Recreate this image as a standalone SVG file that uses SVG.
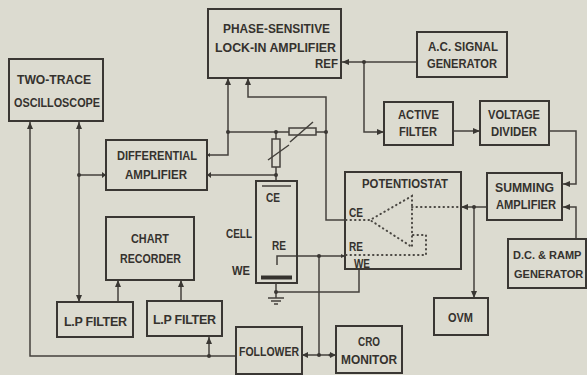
<svg xmlns="http://www.w3.org/2000/svg" width="587" height="375" viewBox="0 0 587 375">
<defs>
<style>
.b{fill:none;stroke:#3a3733;stroke-width:2}
.c{fill:none;stroke:#44413c;stroke-width:1.5}
.d{fill:none;stroke:#4a4742;stroke-width:2;stroke-linecap:round;stroke-dasharray:.5 4}
.r{fill:#dcdbd0;stroke:#44413c;stroke-width:1.5}
text{font-family:"Liberation Sans",Arial,sans-serif;font-weight:bold;font-size:12.5px;fill:#35322e}
.s{font-size:11px}
.a{fill:#3a3733}
</style>
</defs>
<rect width="587" height="375" fill="#dcdbd0"/>
<g id="connectors">
<path class="c" d="M30 122V356H236M79 122V302M79 175H106M207 155H228V79M207 175H276M228 132H289M316 132H326M326 132V97H248V79M326 132V220H345M276 132V181"/>
<path class="c" d="M342 62H417M364 62V132H384M453 131H480M549 131H576V184H563M576 239V207H563M461 207H487M474 207V298M345 256H277V265M319 256V355M276 283V298M276 292H359V269"/>
<path class="c" d="M118 302V280M181 300V280M209 337V356M302 355H336"/>
</g>
<g id="arrows" class="a">
<path d="M30 122l-3 7h6zM79 122l-3 7h6zM79 302l-3-7h6zM228 78l-3 7h6zM248 78l-3 7h6zM342 62l7-3v6zM384 132l-7-3v6zM480 131l-7-3v6zM563 184l7-3v6zM563 207l7-3v6zM461 207l7-3v6zM474 298l-3-7h6zM118 280l-3 7h6zM181 280l-3 7h6zM209 337l-3 7h6zM106 175l-4-3v6zM207 175l4-3v6zM207 155l3-2v4zM302 355l6-3v6zM336 355l-6-3v6zM345 256l-4-2v4z"/>
<circle cx="79" cy="175" r="2"/><circle cx="228" cy="132" r="2"/><circle cx="276" cy="132" r="2"/><circle cx="276" cy="175" r="2"/><circle cx="326" cy="132" r="2"/><circle cx="364" cy="62" r="2"/><circle cx="474" cy="207" r="2"/><circle cx="319" cy="256" r="2"/><circle cx="319" cy="355" r="2"/><circle cx="276" cy="292" r="2"/><circle cx="209" cy="356" r="2"/><circle cx="330" cy="355" r="1.5"/>
</g>
<g id="two-trace"><rect class="b" x="9" y="59" width="94" height="62"/><text x="17" y="84" textLength="74" lengthAdjust="spacingAndGlyphs">TWO-TRACE</text><text x="14" y="107" textLength="86" lengthAdjust="spacingAndGlyphs">OSCILLOSCOPE</text></g>
<g id="differential"><rect class="b" x="106" y="140" width="101" height="50"/><text x="117" y="160" textLength="80" lengthAdjust="spacingAndGlyphs">DIFFERENTIAL</text><text x="125" y="179" textLength="62" lengthAdjust="spacingAndGlyphs">AMPLIFIER</text></g>
<g id="lockin"><rect class="b" x="208" y="9" width="133" height="69"/><text x="223" y="33" textLength="107" lengthAdjust="spacingAndGlyphs">PHASE-SENSITIVE</text><text x="215" y="52" textLength="121" lengthAdjust="spacingAndGlyphs">LOCK-IN AMPLIFIER</text><text x="315" y="68" textLength="23" lengthAdjust="spacingAndGlyphs">REF</text></g>
<g id="ac"><rect class="b" x="417" y="32" width="90" height="45"/><text x="428" y="51" textLength="70" lengthAdjust="spacingAndGlyphs">A.C. SIGNAL</text><text x="427" y="68" textLength="70" lengthAdjust="spacingAndGlyphs">GENERATOR</text></g>
<g id="active"><rect class="b" x="384" y="102" width="69" height="43"/><text x="398" y="119" textLength="41" lengthAdjust="spacingAndGlyphs">ACTIVE</text><text x="399" y="136" textLength="38" lengthAdjust="spacingAndGlyphs">FILTER</text></g>
<g id="divider"><rect class="b" x="480" y="101" width="69" height="44"/><text x="488" y="119" textLength="52" lengthAdjust="spacingAndGlyphs">VOLTAGE</text><text x="491" y="136" textLength="46" lengthAdjust="spacingAndGlyphs">DIVIDER</text></g>
<g id="potentiostat"><rect class="b" x="345" y="172" width="116" height="97"/><text x="362" y="188" textLength="86" lengthAdjust="spacingAndGlyphs">POTENTIOSTAT</text><text x="349" y="217" textLength="14" lengthAdjust="spacingAndGlyphs">CE</text><text x="349" y="251" textLength="14" lengthAdjust="spacingAndGlyphs">RE</text><text x="354" y="268" textLength="16" lengthAdjust="spacingAndGlyphs">WE</text>
<path class="d" d="M346 220H370L412 196V247L370 220M412 207H459M346 255H426V235H413"/></g>
<g id="summing"><rect class="b" x="487" y="173" width="75" height="47"/><text x="495" y="192" textLength="59" lengthAdjust="spacingAndGlyphs">SUMMING</text><text x="496" y="209" textLength="60" lengthAdjust="spacingAndGlyphs">AMPLIFIER</text></g>
<g id="ramp"><rect class="b" x="508" y="239" width="78" height="49"/><text class="s" x="513" y="259">D.C. &amp; RAMP</text><text class="s" x="514" y="278">GENERATOR</text></g>
<g id="ovm"><rect class="b" x="434" y="298" width="54" height="37"/><text x="448" y="322" textLength="25" lengthAdjust="spacingAndGlyphs">OVM</text></g>
<g id="cro"><rect class="b" x="336" y="326" width="66" height="47"/><text x="358" y="346" textLength="22" lengthAdjust="spacingAndGlyphs">CRO</text><text x="341" y="364" textLength="56" lengthAdjust="spacingAndGlyphs">MONITOR</text></g>
<g id="follower"><rect class="b" x="236" y="327" width="66" height="47"/><text x="239" y="356" textLength="60" lengthAdjust="spacingAndGlyphs">FOLLOWER</text></g>
<g id="chart"><rect class="b" x="106" y="217" width="88" height="63"/><text x="131" y="243" textLength="38" lengthAdjust="spacingAndGlyphs">CHART</text><text x="120" y="263" textLength="61" lengthAdjust="spacingAndGlyphs">RECORDER</text></g>
<g id="lp1"><rect class="b" x="57" y="302" width="76" height="35"/><text x="64" y="326" textLength="63" lengthAdjust="spacing">L.P FILTER</text></g>
<g id="lp2"><rect class="b" x="147" y="301" width="75" height="35"/><text x="153" y="324" textLength="63" lengthAdjust="spacing">L.P FILTER</text></g>
<g id="cell"><rect class="b" x="256" y="181" width="41" height="102"/><path class="c" d="M262 186H291"/><path d="M261 277.500H292" stroke="#35322e" stroke-width="4"/><text x="266" y="202" textLength="14" lengthAdjust="spacingAndGlyphs">CE</text><text x="272" y="250" textLength="14" lengthAdjust="spacingAndGlyphs">RE</text><text x="226" y="238" textLength="26" lengthAdjust="spacingAndGlyphs">CELL</text><text x="232" y="275" textLength="18" lengthAdjust="spacingAndGlyphs">WE</text><path class="c" d="M268 298H284M271 301H281M274 304H278"/></g>
<g id="resistors"><rect class="r" x="289" y="128" width="27" height="7"/><rect class="r" x="272" y="139" width="8" height="28"/><path class="c" d="M290 142L313 122M268 160L289 145"/></g>
</svg>
